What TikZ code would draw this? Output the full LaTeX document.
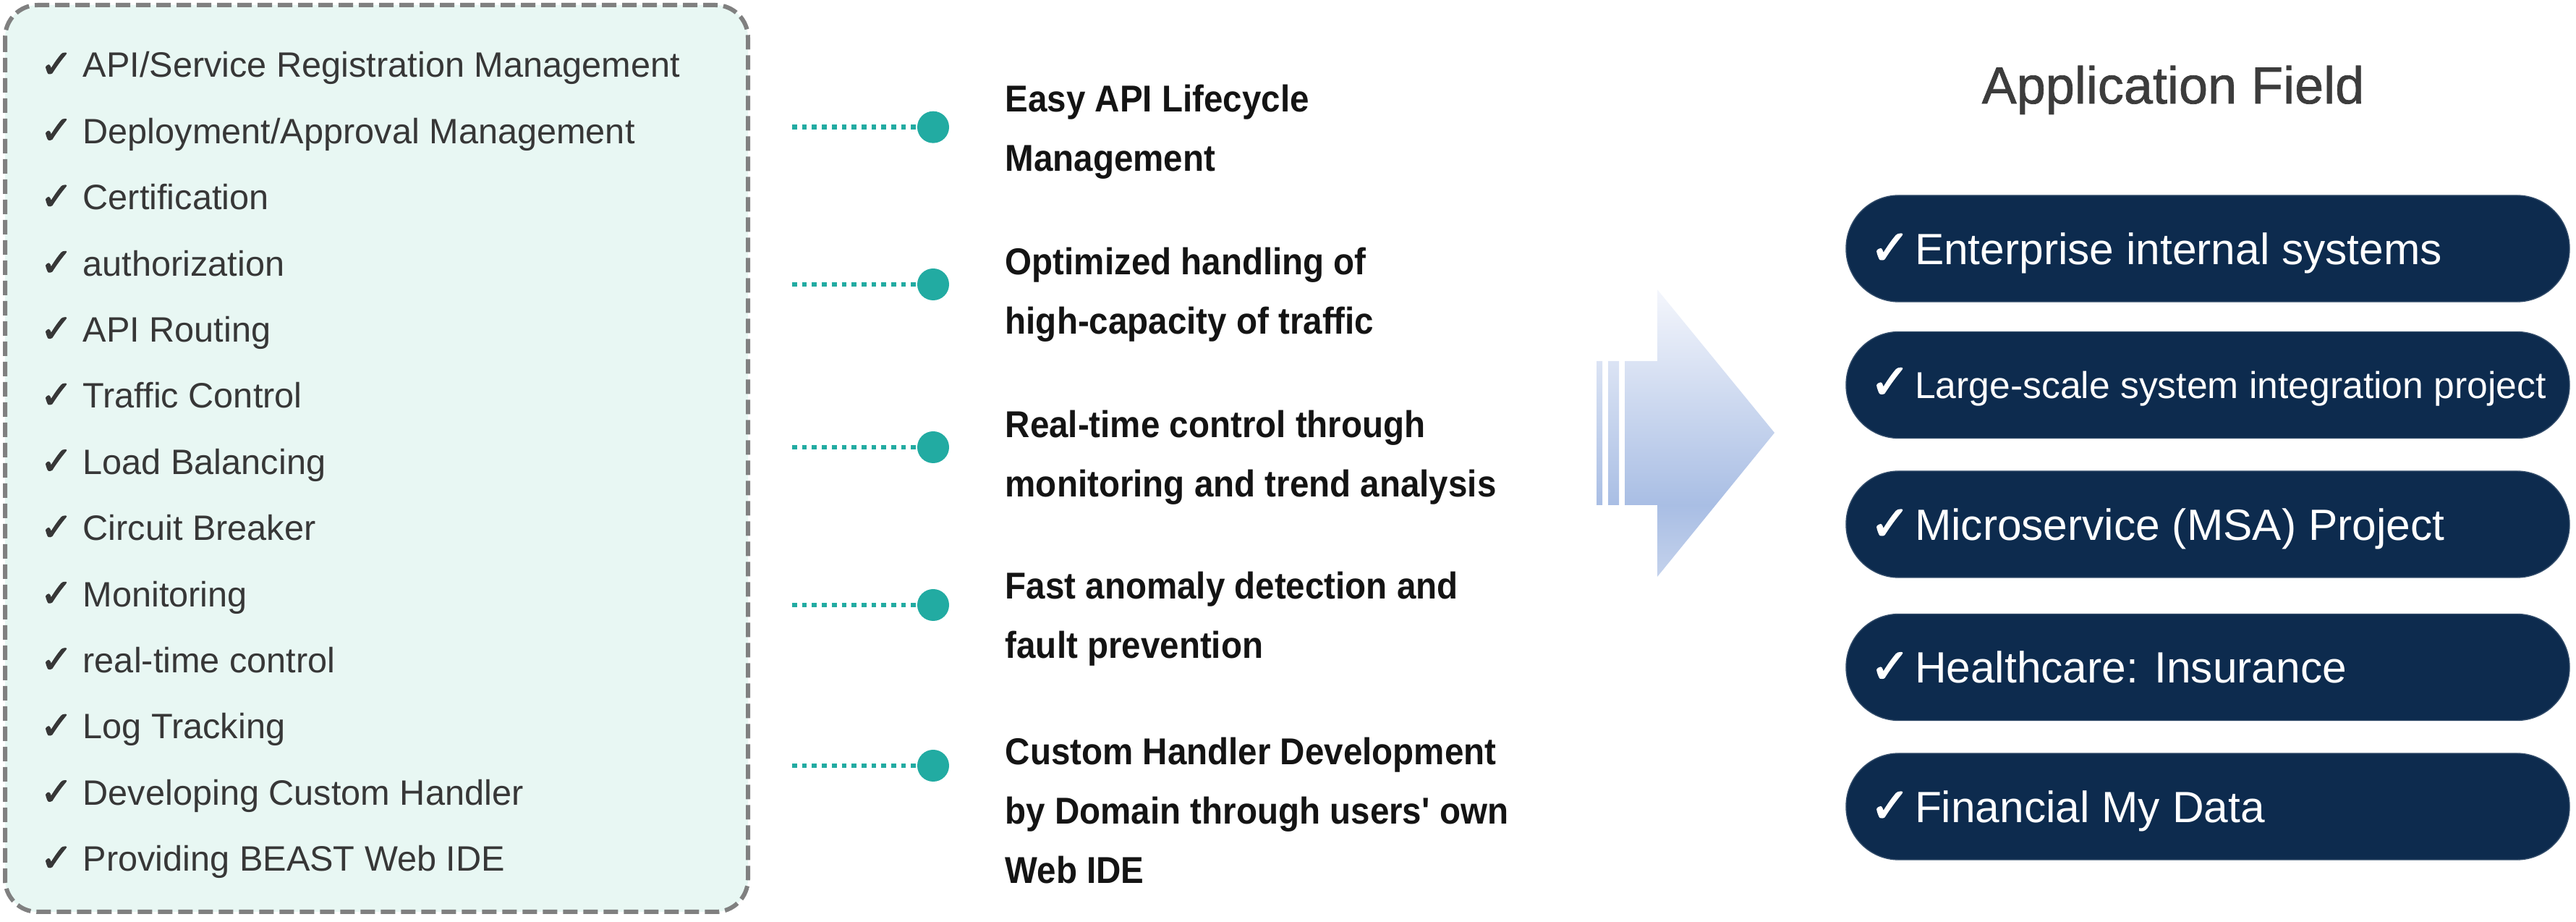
\documentclass[tikz,border=0pt]{standalone}
\usepackage{fontspec}
\setmainfont{Liberation Sans}
\newfontfamily\benefitfont[FakeStretch=0.92]{Liberation Sans}
\newfontfamily\titlefont[FakeBold=1]{Liberation Sans}
\newfontfamily\symfont[FakeBold=2.5]{DejaVu Sans}
\usetikzlibrary{positioning}
\definecolor{boxfill}{RGB}{232,247,243}
\definecolor{boxline}{RGB}{128,128,128}
\definecolor{listgray}{RGB}{55,55,55}
\definecolor{tealdot}{RGB}{34,171,162}
\definecolor{navy}{RGB}{13,43,78}
\definecolor{titlegray}{RGB}{60,60,60}
\definecolor{arrowtop}{RGB}{244,246,252}
\definecolor{arrowdark}{RGB}{169,190,228}
\definecolor{arrowbot}{RGB}{196,210,236}
\pgfdeclareverticalshading{arrowfade}{100bp}{color(0bp)=(arrowbot); color(25bp)=(arrowbot); color(37.5bp)=(arrowdark); color(75bp)=(arrowtop); color(100bp)=(arrowtop)}
\newcommand{\chk}{{\symfont\scalebox{1.1}{✓}}}
\tikzset{
  feat_box/.style={draw=boxline, fill=boxfill, line width=0.06cm, dash pattern=on 0.2cm off 0.08cm, rounded corners=0.45cm},
  feat_item/.style={anchor=base west, inner sep=0, text=listgray, font=\fontsize{13.85}{16}\selectfont},
  lead_line/.style={draw=tealdot, line width=0.067cm, dash pattern=on 0.067cm off 0.07cm},
  lead_dot/.style={circle, fill=tealdot, minimum size=0.44cm, inner sep=0},
  benefit/.style={anchor=west, align=left, inner sep=0, text=black!92, font=\benefitfont\bfseries\fontsize{14.7}{23.3}\selectfont},
  app_title/.style={anchor=base, inner sep=0, text=titlegray, font=\titlefont\fontsize{20.5}{24}\selectfont},
  app_pill/.style={fill=navy, draw=navy!85!white, line width=0.4pt, rounded corners=0.73cm, minimum width=10cm, minimum height=1.47cm, inner xsep=0.33cm, inner ysep=0, text=white, text height=12.3pt, text depth=0pt, font=\fontsize{17.2}{20}\selectfont}
}

\begin{document}
\begin{tikzpicture}[y=-1cm]
    \useasboundingbox (0,0) rectangle (35.61,12.74);

    % functions
    \draw[feat_box] (0.07,0.07) rectangle (10.34,12.60);
    \foreach \txt [count=\i] in {API/Service Registration Management, Deployment/Approval Management, Certification, authorization, API Routing, Traffic Control, Load Balancing, Circuit Breaker, Monitoring, real-time control, Log Tracking, Developing Custom Handler, Providing BEAST Web IDE}
        \node[feat_item] (feat\i) at (0.55,{1.07+0.914*(\i-1)}) {\makebox[0.59cm][l]{\chk}\txt};

    % benefits
    \foreach \y [count=\i] in {1.757,3.93,6.18,8.36,10.58} {
        \node[lead_dot] (dot\i) at (12.90,\y) {};
        \coordinate (lead\i) at (10.95,\y);
        \draw[lead_line] (lead\i) -- (dot\i);
    }
    \node[benefit] (ben1) at (13.89,1.826) {Easy API Lifecycle\\Management};
    \node[benefit] (ben2) at (13.89,4.074) {Optimized handling of\\high-capacity of traffic};
    \node[benefit] (ben3) at (13.89,6.319) {Real-time control through\\monitoring and trend analysis};
    \node[benefit] (ben4) at (13.89,8.551) {Fast anomaly detection and\\fault prevention};
    \node[benefit] (ben5) at (13.89,11.202) {Custom Handler Development\\by Domain through users\textquotesingle{} own\\Web IDE};

    % arrow
    \shade[shading=arrowfade] (22.46,4.99) -- (22.91,4.99) -- (22.91,4.00) -- (24.53,5.98) -- (22.91,7.97) -- (22.91,6.98) -- (22.46,6.98) -- cycle
        (22.07,4.99) rectangle (22.15,6.98) (22.23,4.99) rectangle (22.38,6.98);

    % application field
    \node[app_title] (apptitle) at (30.04,1.43) {Application Field};
    \node[app_pill] (app1) at (30.52,3.435) {\makebox[9.34cm][l]{\makebox[0.62cm][l]{\chk}Enterprise internal systems}};
    \node[app_pill, font=\fontsize{14.7}{18}\selectfont, text height=10.5pt] (app2) at (30.52,5.32) {\makebox[9.34cm][l]{\makebox[0.62cm][l]{\fontsize{17.2}{20}\selectfont\chk}Large-scale system integration project}};
    \node[app_pill] (app3) at (30.52,7.245) {\makebox[9.34cm][l]{\makebox[0.62cm][l]{\chk}Microservice (MSA) Project}};
    \node[app_pill] (app4) at (30.52,9.22) {\makebox[9.34cm][l]{\makebox[0.62cm][l]{\chk}Healthcare: Insurance}};
    \node[app_pill] (app5) at (30.52,11.145) {\makebox[9.34cm][l]{\makebox[0.62cm][l]{\chk}Financial My Data}};
\end{tikzpicture}
\end{document}
